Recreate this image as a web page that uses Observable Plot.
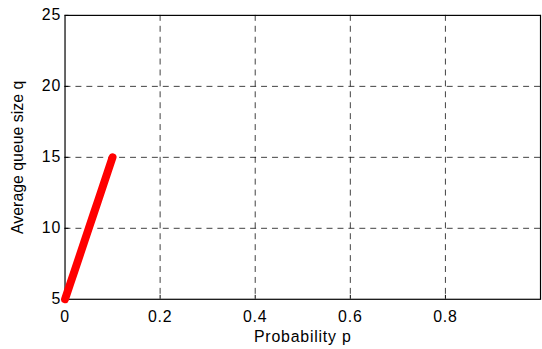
<!DOCTYPE html>
<html>
<head>
<meta charset="utf-8">
<script src="https://cdn.jsdelivr.net/npm/d3@7"></script>
<script src="https://cdn.jsdelivr.net/npm/@observablehq/plot@0.6"></script>
<style>
  html, body { margin: 0; padding: 0; background: #fff; }
  #chart { width: 542px; height: 349px; overflow: hidden; }
  #chart text { letter-spacing: 0.8px; }
  #chart g[aria-label="y-axis label"] text { letter-spacing: 0; }
</style>
</head>
<body>
<div id="chart"></div>
<script>
// Average queue size q as a function of the probability p
const probability = [0, 0.01, 0.02, 0.03, 0.04, 0.05, 0.06, 0.07, 0.08, 0.09, 0.10];
const queueSize   = [5, 6, 7, 8, 9, 10, 11, 12, 13, 14, 15];

// Axis ticks and grid positions
const xTicks = [0, 0.2, 0.4, 0.6, 0.8];
const xTickLabels = ["0", "0.2", "0.4", "0.6", "0.8"];
const yTicks = [5, 10, 15, 20, 25];
const xGrid = [0.2, 0.4, 0.6, 0.8, 1];
const yGrid = [10, 15, 20];

const rows = probability.map((p, i) => ({p, q: queueSize[i]}));

const dash = {stroke: "#000", strokeOpacity: 0.95, strokeWidth: 0.8, strokeDasharray: "6,5"};

const chart = Plot.plot({
  width: 546,
  height: 349,
  marginLeft: 65,
  marginRight: 2,
  marginTop: 15,
  marginBottom: 48,
  style: {fontFamily: "'Liberation Sans', Arial, sans-serif", fontSize: "16px", color: "#000", background: "#fff", overflow: "hidden"},
  x: {domain: [0, 1]},
  y: {domain: [5, 25]},
  marks: [
    Plot.gridX(xGrid, dash),
    Plot.gridY(yGrid, dash),
    Plot.axisX(xTicks, {tickSize: -4, tickPadding: 16, stroke: "#000", strokeOpacity: 1,
      tickFormat: (d, i) => xTickLabels[i],
      label: "Probability p", labelAnchor: "center", labelOffset: 43, labelArrow: "none"}),
    Plot.axisY(yTicks, {tickSize: -4, tickPadding: 8, stroke: "#000", strokeOpacity: 1,
      label: "Average queue size q", labelAnchor: "center", labelOffset: 54, labelArrow: "none"}),
    Plot.frame({stroke: "#000", strokeWidth: 1.2}),
    Plot.line(rows, {x: "p", y: "q", stroke: "#ff0000", strokeWidth: 8, strokeLinecap: "round", strokeLinejoin: "round"})
  ]
});

document.getElementById("chart").appendChild(chart);
</script>
</body>
</html>
